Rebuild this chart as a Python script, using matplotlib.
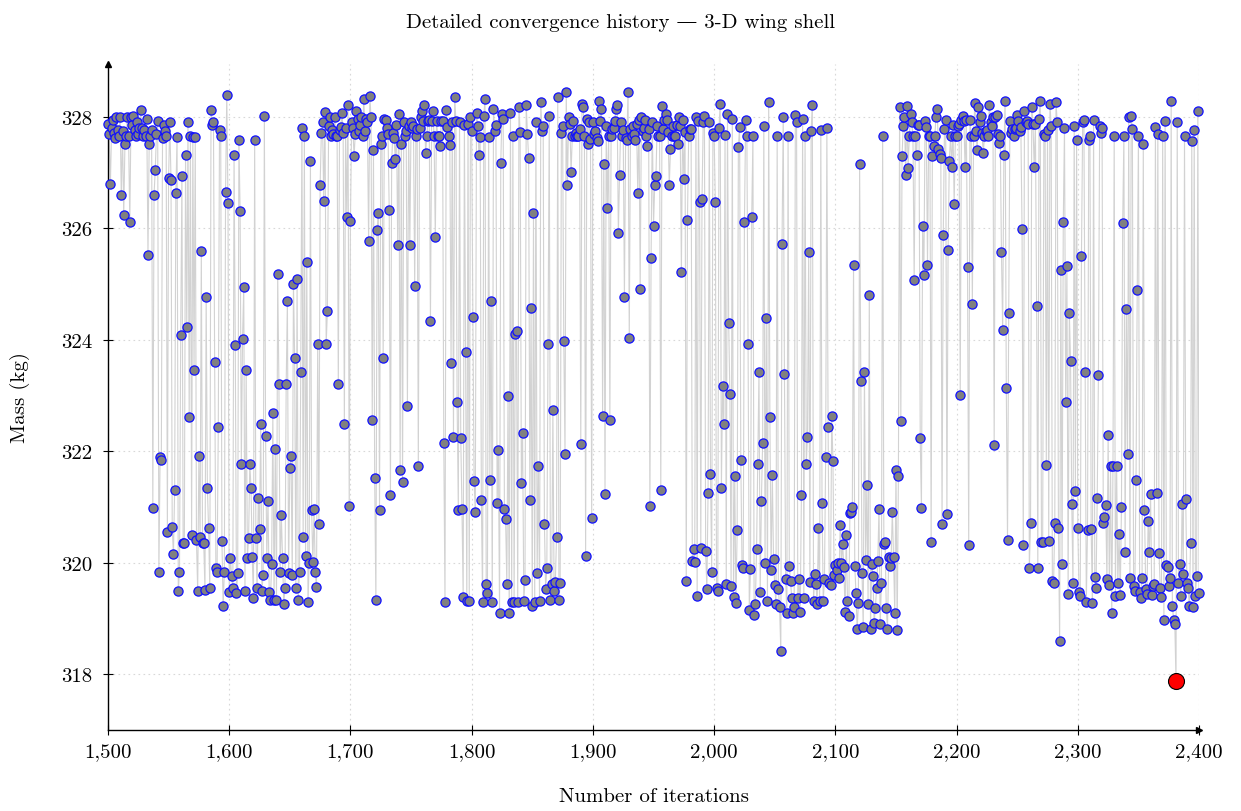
import matplotlib
matplotlib.use("Agg")
import matplotlib.pyplot as plt
from matplotlib.ticker import FuncFormatter

plt.rcParams['font.family'] = ['cmr10', 'DejaVu Serif']
plt.rcParams['axes.formatter.use_mathtext'] = True

# Mass (kg) at every iteration, 1500 ... 2400
first_iter = 1500
mass_kg = [
    327.88, 327.69, 326.79, 327.80, 327.95, 327.72, 327.62, 327.99, 327.77, 327.65,  # 1500
    328.00, 326.59, 327.75, 326.24, 327.52, 327.65, 328.00, 327.65, 326.11, 327.99,
    327.85, 328.02, 327.77, 327.65, 327.91, 327.70, 327.80, 328.12, 327.80, 327.65,
    327.77, 327.66, 327.96, 325.52, 327.52, 327.65, 327.77, 320.99, 326.60, 327.05,
    327.70, 327.93, 319.84, 321.89, 321.85, 327.63, 327.85, 327.75, 327.65, 320.55,
    326.90, 327.91, 326.86, 320.64, 320.15, 321.30, 326.63, 327.64, 319.50, 319.84,  # 1550
    324.09, 326.94, 320.35, 320.35, 327.31, 324.23, 327.91, 322.61, 327.66, 320.50,
    327.64, 323.45, 327.64, 320.40, 319.50, 321.91, 320.46, 325.60, 320.35, 320.35,
    319.52, 324.77, 321.34, 320.62, 319.54, 328.13, 327.85, 327.91, 323.60, 319.91,
    319.84, 322.44, 327.77, 327.65, 320.39, 319.23, 319.84, 326.66, 328.40, 326.46,
    319.48, 320.09, 319.76, 319.54, 327.32, 323.90, 319.45, 319.81, 327.58, 326.31,  # 1600
    321.77, 324.02, 324.95, 319.50, 323.46, 320.09, 320.44, 321.77, 321.34, 320.11,
    319.37, 327.58, 320.44, 319.54, 321.16, 320.60, 322.49, 319.50, 319.78, 328.01,
    322.28, 320.09, 321.11, 319.48, 319.34, 319.97, 322.68, 319.34, 322.05, 319.34,
    325.18, 323.21, 319.84, 320.85, 320.09, 319.26, 319.54, 323.20, 324.70, 319.81,
    321.70, 321.92, 319.78, 325.00, 323.67, 319.54, 325.10, 319.34, 319.84, 323.43,  # 1650
    327.80, 320.46, 327.65, 320.13, 325.40, 319.30, 320.00, 327.21, 320.94, 320.01,
    320.97, 319.84, 319.56, 323.93, 320.69, 326.77, 327.71, 327.90, 326.49, 328.08,
    323.93, 324.51, 327.84, 327.99, 327.65, 327.77, 327.70, 327.99, 327.65, 327.65,
    323.21, 327.77, 327.82, 328.07, 327.71, 322.49, 327.80, 326.21, 328.22, 321.02,
    326.14, 327.90, 327.80, 327.29, 327.70, 328.10, 327.97, 327.75, 327.85, 327.99,  # 1700
    327.65, 328.32, 327.75, 327.97, 327.90, 325.77, 328.37, 327.99, 322.57, 327.41,
    321.52, 319.33, 325.97, 326.27, 320.95, 327.52, 327.65, 323.68, 327.96, 327.95,
    327.80, 327.70, 326.33, 321.21, 327.18, 327.71, 327.62, 327.25, 327.85, 325.70,
    328.06, 321.66, 327.52, 321.45, 327.91, 327.65, 327.75, 322.81, 327.84, 325.71,
    327.90, 327.80, 327.84, 324.96, 327.65, 327.78, 321.74, 327.80, 328.00, 328.10,  # 1750
    327.93, 328.21, 327.35, 327.65, 327.93, 327.95, 324.33, 327.93, 328.10, 327.65,
    325.84, 327.93, 327.65, 327.65, 327.47, 327.93, 327.93, 322.15, 319.30, 328.13,
    327.82, 327.65, 327.49, 323.59, 327.91, 322.26, 328.35, 327.93, 322.88, 320.95,
    327.91, 322.24, 320.97, 319.38, 327.85, 323.79, 319.31, 327.88, 319.31, 328.00,
    327.74, 324.41, 321.47, 320.91, 328.07, 327.84, 327.32, 327.64, 321.13, 319.30,  # 1800
    328.01, 328.32, 319.62, 319.45, 327.64, 321.49, 324.69, 319.30, 328.15, 327.74,
    327.85, 321.08, 322.03, 319.10, 327.17, 328.06, 327.96, 320.97, 320.78, 319.62,
    323.00, 319.10, 328.07, 319.30, 327.65, 319.30, 324.10, 324.15, 319.30, 328.17,
    327.73, 321.43, 322.33, 319.32, 319.69, 328.21, 327.70, 327.27, 321.12, 324.57,
    319.23, 326.28, 319.30, 327.90, 319.81, 321.74, 319.32, 328.26, 327.75, 327.84,  # 1850
    320.70, 319.53, 319.91, 323.92, 328.02, 319.34, 319.62, 322.74, 319.50, 319.65,
    320.46, 328.35, 319.33, 319.63, 327.71, 327.84, 323.98, 321.96, 328.44, 326.77,
    327.99, 327.88, 327.01, 327.65, 327.93, 327.65, 327.72, 327.65, 327.65, 327.78,
    322.13, 328.24, 328.17, 327.65, 320.13, 327.97, 327.51, 327.91, 327.60, 320.80,
    327.91, 327.69, 327.75, 327.63, 327.57, 328.29, 327.93, 328.15, 322.63, 327.15,  # 1900
    321.23, 327.84, 326.37, 327.65, 322.57, 327.65, 327.78, 327.80, 327.93, 328.15,
    328.22, 325.91, 326.96, 327.90, 327.65, 327.77, 324.77, 327.62, 327.58, 328.44,
    324.04, 327.78, 327.65, 327.84, 327.70, 327.58, 327.88, 326.64, 327.95, 324.92,
    328.00, 327.75, 327.80, 327.95, 327.65, 327.47, 327.78, 321.02, 325.47, 327.91,
    326.05, 326.77, 326.94, 327.84, 327.65, 327.65, 321.30, 328.19, 327.78, 327.95,  # 1950
    328.06, 327.95, 327.73, 326.77, 327.43, 327.65, 327.84, 327.65, 327.65, 327.85,
    327.52, 328.00, 327.84, 325.21, 327.95, 326.88, 327.73, 319.67, 326.15, 327.65,
    327.78, 327.78, 320.04, 320.24, 320.02, 327.99, 319.41, 327.93, 326.47, 320.26,
    326.52, 327.90, 328.01, 320.22, 319.53, 321.25, 327.90, 321.60, 319.83, 327.72,
    327.65, 326.48, 319.54, 319.50, 327.80, 328.24, 321.35, 323.17, 322.49, 327.68,  # 2000
    319.62, 328.06, 324.31, 323.02, 319.58, 327.97, 319.38, 321.55, 319.27, 320.58,
    327.46, 327.82, 321.85, 319.96, 319.91, 326.11, 327.95, 327.65, 323.92, 319.16,
    319.89, 326.20, 327.65, 319.06, 319.26, 320.24, 321.77, 323.43, 319.48, 321.11,
    322.15, 327.84, 320.00, 324.40, 319.32, 328.26, 322.61, 319.87, 321.58, 320.06,
    319.60, 319.26, 327.65, 319.53, 319.20, 318.42, 325.72, 328.00, 323.39, 319.70,  # 2050
    319.09, 327.65, 319.95, 319.67, 319.37, 319.09, 319.20, 328.04, 327.90, 319.37,
    319.70, 319.12, 321.21, 327.96, 319.37, 327.65, 321.77, 322.26, 325.58, 319.65,
    327.75, 328.22, 319.31, 319.80, 319.62, 319.26, 320.63, 319.32, 327.77, 321.07,
    319.32, 319.70, 321.89, 327.80, 322.43, 319.64, 319.60, 322.64, 321.83, 319.78,
    319.96, 319.87, 320.00, 319.72, 320.67, 320.00, 320.34, 319.93, 319.12, 320.50,  # 2100
    319.31, 319.04, 320.90, 320.91, 321.00, 325.34, 319.95, 319.45, 318.81, 319.28,
    327.16, 323.26, 319.81, 318.84, 323.43, 320.05, 321.40, 319.26, 324.80, 318.81,
    319.98, 319.76, 318.92, 319.19, 319.54, 320.04, 320.97, 318.90, 319.63, 327.65,
    320.34, 320.37, 319.19, 318.81, 320.11, 319.95, 320.09, 320.91, 320.11, 319.09,
    321.66, 318.79, 321.55, 328.17, 322.54, 327.29, 327.84, 327.99, 326.96, 328.19,  # 2150
    327.09, 327.65, 328.06, 327.90, 327.65, 325.08, 327.65, 327.32, 327.85, 327.85,
    322.24, 320.99, 326.05, 325.16, 327.93, 327.82, 325.35, 327.65, 327.65, 320.38,
    327.29, 327.47, 327.65, 327.99, 328.15, 327.43, 327.34, 327.27, 320.69, 325.88,
    327.78, 327.95, 320.88, 325.61, 327.21, 327.65, 327.10, 327.85, 326.44, 327.65,
    327.65, 327.84, 327.88, 323.01, 327.95, 328.02, 327.93, 327.10, 327.95, 325.31,  # 2200
    320.31, 327.95, 327.65, 324.65, 327.65, 328.25, 327.75, 327.41, 328.17, 327.91,
    328.02, 327.71, 327.35, 327.65, 327.75, 327.77, 327.65, 328.21, 327.90, 327.84,
    327.99, 322.11, 327.99, 328.04, 327.70, 327.53, 327.65, 325.58, 324.17, 327.32,
    328.28, 323.13, 320.40, 324.49, 327.93, 327.72, 327.78, 327.65, 327.78, 327.80,
    328.04, 327.93, 327.75, 327.82, 325.98, 320.31, 328.10, 327.91, 327.93, 327.88,  # 2250
    319.91, 320.71, 328.17, 327.88, 327.10, 327.88, 324.61, 319.91, 327.97, 328.29,
    320.38, 320.38, 327.69, 327.65, 321.76, 327.77, 320.39, 328.24, 327.84, 319.67,
    319.64, 320.72, 328.26, 327.91, 320.63, 318.59, 325.25, 319.98, 326.11, 327.80,
    322.88, 325.32, 319.44, 324.48, 323.62, 321.06, 319.64, 327.84, 321.29, 327.58,
    320.63, 319.47, 319.41, 325.51, 327.90, 327.95, 323.43, 319.30, 320.59, 327.58,  # 2300
    327.65, 320.61, 319.28, 327.95, 319.75, 319.54, 321.17, 323.37, 327.84, 327.71,
    327.80, 320.72, 320.83, 321.03, 319.70, 322.29, 319.60, 321.74, 319.10, 321.74,
    327.65, 319.41, 321.74, 319.64, 320.51, 319.42, 321.00, 326.09, 327.65, 320.19,
    324.56, 321.96, 327.99, 319.73, 328.02, 327.79, 319.58, 319.49, 321.48, 324.89,
    327.65, 319.47, 319.37, 319.73, 327.52, 320.94, 319.53, 319.44, 320.75, 320.20,  # 2350
    321.23, 319.43, 319.58, 319.62, 327.81, 321.26, 327.70, 320.17, 319.54, 319.39,
    327.65, 318.97, 327.93, 319.96, 319.93, 319.58, 319.73, 328.28, 319.23, 318.97,
    318.90, 317.87, 327.90, 319.63, 319.98, 319.41, 321.05, 319.79, 327.65, 321.14,
    319.63, 319.54, 319.23, 320.36, 327.57, 319.20, 327.76, 319.41, 319.76, 328.10,
    319.45,  # 2400
]
iterations = list(range(first_iter, first_iter + len(mass_kg)))

x_ticks = [1500, 1600, 1700, 1800, 1900, 2000, 2100, 2200, 2300, 2400]
y_ticks = [318, 320, 322, 324, 326, 328]

best = min(range(len(mass_kg)), key=lambda i: mass_kg[i])

fig = plt.figure(figsize=(12.41, 8.12), dpi=100)
ax = fig.add_axes([0.087, 0.0998, 0.8792, 0.8202])

# history line + markers
ax.plot(iterations, mass_kg, '-', color='#d2d2d2', lw=0.8, zorder=2)
ax.plot(iterations, mass_kg, 'o', ms=6.6, mfc='#808080', mec='#1010ff',
        mew=0.9, zorder=3, clip_on=False)
# best design
ax.plot(iterations[best], mass_kg[best], 'o', ms=11.5, mfc='red', mec='black',
        mew=0.8, zorder=4, clip_on=False)

ax.set_xlim(1500, 2400)
ax.set_ylim(317.0, 328.95)
ax.set_xticks(x_ticks)
ax.set_yticks(y_ticks)
ax.xaxis.set_major_formatter(FuncFormatter(lambda v, _: f'{int(v):,}'))
ax.yaxis.set_major_formatter(FuncFormatter(lambda v, _: f'{int(v)}'))
ax.tick_params(direction='inout', length=7, width=0.8, labelsize=15, pad=5)
ax.tick_params(axis='y', pad=8)

ax.grid(True, color='#d8d8d8', lw=0.8, ls=(0, (1.5, 3)))
ax.set_axisbelow(True)
for side in ['top', 'right']:
    ax.spines[side].set_visible(False)
for side in ['left', 'bottom']:
    ax.spines[side].set_linewidth(1.0)

# axis arrows
ax.plot(1, 0, '>', color='black', ms=5, transform=ax.transAxes, clip_on=False)
ax.plot(0, 1, '^', color='black', ms=5, transform=ax.transAxes, clip_on=False)

ax.set_xlabel('Number of iterations', fontsize=15, labelpad=20)
ax.set_ylabel('Mass (kg)', fontsize=15, labelpad=22)
fig.text(0.5, 0.972, 'Detailed convergence history \u2014 3-D wing shell',
         ha='center', va='center', fontsize=15)

fig.savefig('out.png', dpi=100)
